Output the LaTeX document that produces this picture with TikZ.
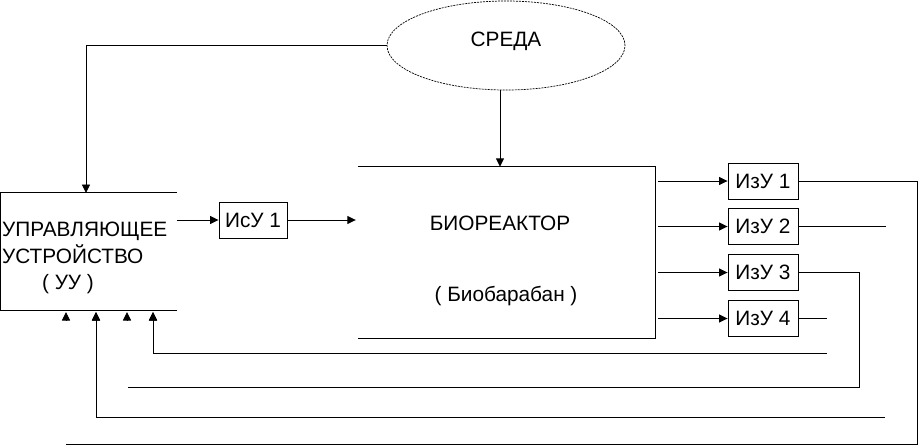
\documentclass[tikz,border=0pt]{standalone}
\usepackage{fontspec}
\setmainfont{Liberation Sans}
\usetikzlibrary{arrows.meta,shapes.geometric}

\begin{document}
\begin{tikzpicture}[
  x=1pt, y=-1pt,
  txt/.style={inner sep=0pt, font=\fontsize{20.8}{24}\selectfont},
  unit/.style={draw, line width=0.9pt, minimum width=70pt, minimum height=36pt, inner sep=0pt, font=\fontsize{20.8}{24}\selectfont},
  env/.style={ellipse, draw, dash pattern=on 2pt off 1pt, line width=0.7pt, minimum width=238pt, minimum height=89pt, inner sep=0pt},
  link/.style={line width=0.9pt},
  flow/.style={->, line width=0.9pt},
  >={Triangle[length=8.5pt, width=8pt]}
]
  \useasboundingbox (0,0) rectangle (918,445);

  % Environment
  \node[env] (sreda) at (506,45.5) {};
  \node[txt, anchor=base] (sredaT) at (506,46) {СРЕДА};

  % Control device (open on the right)
  \node[minimum width=176.5pt, minimum height=117pt, inner sep=0pt] (uu) at (88.75,251.5) {};
  \draw[link] (uu.north east) -- (uu.north west) -- (uu.south west) -- (uu.south east);
  \node[txt, anchor=base west] (uuA) at (2,236) {УПРАВЛЯЮЩЕЕ};
  \node[txt, anchor=base west] (uuB) at (2,263) {УСТРОЙСТВО};
  \node[txt, anchor=base] (uuC) at (68,289) {( УУ )};

  % Bioreactor (open on the left)
  \node[minimum width=297pt, minimum height=171pt, inner sep=0pt] (bio) at (506.5,252.5) {};
  \draw[link] (bio.north west) -- (bio.north east) -- (bio.south east) -- (bio.south west);
  \node[txt, anchor=base] (bioA) at (500,230) {БИОРЕАКТОР};
  \node[txt, anchor=base] (bioB) at (506,301) {( Биобарабан )};

  % Actuator
  \node[unit, minimum width=68pt] (isu) at (253,220) {ИсУ 1};
  \draw[flow] (uu.north east |- isu.west) -- (isu.west);
  \draw[flow] (isu.east) -- ([xshift=-2pt]isu.east -| bio.west);

  % Environment inputs
  \coordinate (uuin) at (86,193);
  \draw[flow] (sreda.west) -| (uuin);
  \draw[flow] ([xshift=-6pt]sreda.south) -- ([xshift=-6pt]sreda.south |- bio.north);

  % Measuring units
  \foreach \i/\y in {1/181,2/226.5,3/272.5,4/318.5} {
    \node[unit] (izu\i) at (763,\y) {ИзУ \i};
    \draw[flow, shorten <=3pt] (izu\i.west -| bio.east) -- (izu\i.west);
  }

  % Feedback inputs under the control device
  \foreach \i/\x in {1/66,2/96,3/127,4/153} {
    \coordinate (fb\i) at (\x,312);
    \draw[flow] (\x,320.5) -- (fb\i);
  }

  % Feedback lines
  \coordinate (r1) at (917,444);
  \draw[link] (izu1.east) -| (r1) -- (r1 -| fb1);
  \draw[link] (izu2.east) -- ++(88,0);
  \coordinate (e2) at (885,417);
  \draw[flow] (e2) -| (fb2);
  \coordinate (r3) at (859,387);
  \draw[link] (izu3.east) -| (r3) -- ([xshift=1pt]r3 -| fb3);
  \draw[link] (izu4.east) -- ++(29,0);
  \coordinate (e4) at (827,353);
  \draw[flow] (e4) -| (fb4);

\end{tikzpicture}
\end{document}
